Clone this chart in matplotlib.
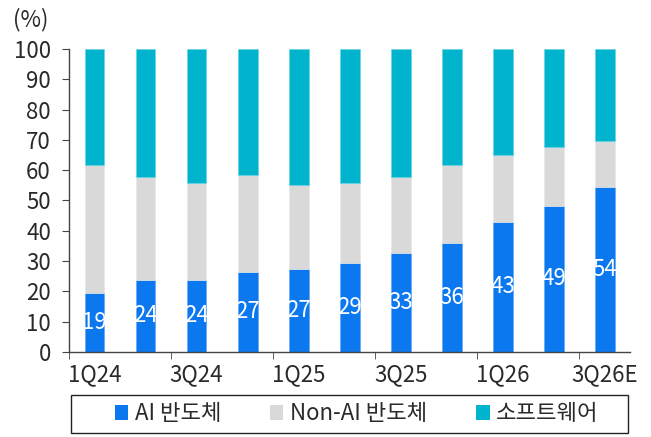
import numpy as np
import matplotlib.pyplot as plt
from matplotlib.ticker import FixedLocator
from matplotlib.patches import Rectangle

plt.rcParams['font.family'] = ['Noto Sans CJK KR', 'DejaVu Sans']

# --- datos ---
quarters = ['1Q24', '2Q24', '3Q24', '4Q24', '1Q25', '2Q25',
            '3Q25', '4Q25', '1Q26', '2Q26', '3Q26E']
ai_semi = [19.3, 23.8, 23.8, 26.5, 27.2, 29.2, 32.5, 35.8, 43.0, 48.3, 54.3]
ai_labels = [19, 24, 24, 27, 27, 29, 33, 36, 43, 49, 54]
non_ai_semi = [42.4, 33.8, 31.9, 31.9, 27.9, 26.4, 25.1, 25.9, 21.9, 19.2, 15.2]
software = [100 - a - b for a, b in zip(ai_semi, non_ai_semi)]
series_names = ['AI 반도체', 'Non-AI 반도체', '소프트웨어']

C_AI = '#0B78F0'
C_NON = '#D9D9D9'
C_SW = '#00B4CD'
TXT = '#2A2A2A'
FS = 16

fig = plt.figure(figsize=(6.51, 4.37), dpi=100)
ax = fig.add_axes([0.106, 0.195, 0.862, 0.693])

x = np.arange(len(quarters))
w = 0.39
bottom2 = np.array(ai_semi) + np.array(non_ai_semi)
ax.bar(x, ai_semi, w, color=C_AI, label=series_names[0], edgecolor='#5AA6F5', linewidth=0.4)
ax.bar(x, non_ai_semi, w, bottom=ai_semi, color=C_NON, label=series_names[1], edgecolor='#E8E8E8', linewidth=0.4)
ax.bar(x, software, w, bottom=bottom2, color=C_SW, label=series_names[2], edgecolor='#5FD3E3', linewidth=0.4)

for xi, v, lab in zip(x, ai_semi, ai_labels):
    ax.text(xi, v / 2, str(lab), ha='center', va='center', color='white', fontsize=FS)

ax.set_xlim(-0.5, 10.5)
ax.set_ylim(0, 100)
ax.set_yticks(np.arange(0, 101, 10))
ax.set_xticks(x[::2])
ax.set_xticklabels(quarters[::2])
ax.xaxis.set_minor_locator(FixedLocator(np.arange(-0.5, 10, 2)))
ax.tick_params(axis='x', which='major', length=0, pad=8, labelsize=FS, colors=TXT)
ax.tick_params(axis='x', which='minor', length=5, direction='out', color='#444444')
ax.tick_params(axis='y', length=5, direction='out', labelsize=FS, colors=TXT, pad=8)
ax.tick_params(axis='y', color='#444444')

for s in ['top', 'right']:
    ax.spines[s].set_visible(False)
for s in ['left', 'bottom']:
    ax.spines[s].set_color('#444444')
    ax.spines[s].set_linewidth(1.0)

fig.text(0.02, 0.955, '(%)', fontsize=FS, color=TXT, va='center')

# marco de la leyenda
fig.patches.append(Rectangle((0.109, 0.01), 0.856, 0.087, transform=fig.transFigure,
                             fill=False, edgecolor='#222222', linewidth=1.0))
leg = fig.legend(loc='center', bbox_to_anchor=(0.548, 0.053), ncol=3, frameon=False,
                 prop={'size': FS}, handlelength=0.6, handleheight=0.6,
                 handletextpad=0.3, columnspacing=2.2, labelcolor=TXT)
for h in leg.legend_handles:
    h.set_edgecolor('none')

fig.savefig('out.png', dpi=100)
